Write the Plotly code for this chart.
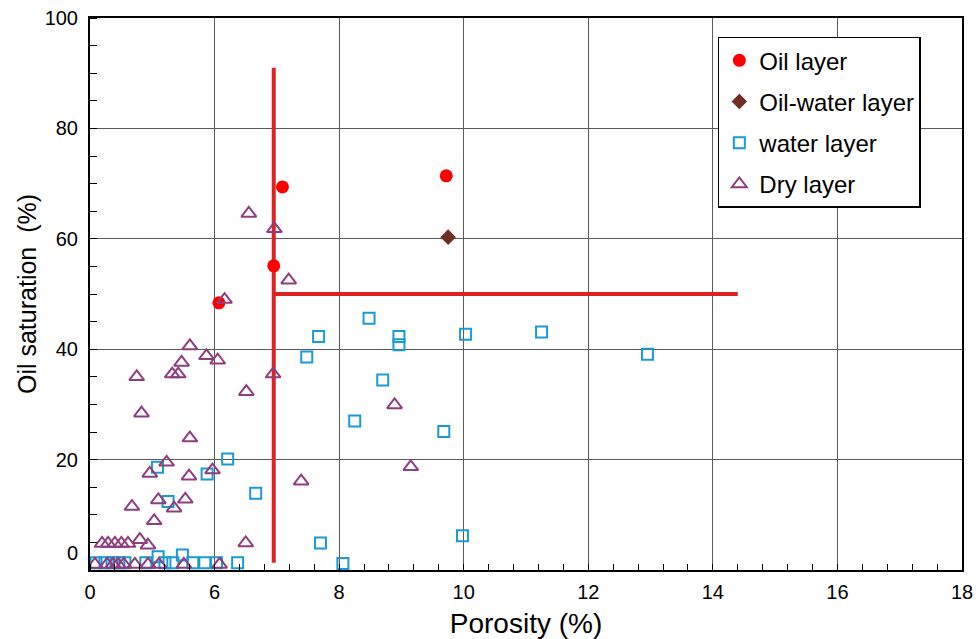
import plotly.graph_objects as go

# ---------------- data (real porosity %, oil saturation %) ----------------
oil_por = [7.09, 9.72, 6.95, 6.07]
oil_sat = [69.4, 71.4, 55.1, 48.4]

ow_por = [9.75]
ow_sat = [60.3]

water_por = [3.25, 5.64, 6.21, 6.66, 3.76, 7.70, 9.98, 8.06,
             0.29, 0.72, 1.06, 1.39, 1.68, 2.69, 3.61, 3.99, 4.95, 5.53, 6.03, 6.37,
             3.28, 4.45,
             7.67, 7.48, 8.48, 8.96, 8.96, 10.03, 11.25, 12.95, 8.70, 8.25, 9.68]
water_sat = [18.6, 17.4, 20.1, 13.9, 12.4, 4.9, 6.2, 1.2,
             1.3, 1.3, 1.3, 1.3, 1.3, 1.3, 1.3, 1.3, 1.3, 1.3, 1.3, 1.3,
             2.4, 2.7,
             42.3, 38.6, 45.6, 42.3, 40.8, 42.7, 43.1, 39.1, 34.4, 27.0, 25.1]

dry_por = [2.25, 2.48, 4.81, 3.69, 2.88, 4.77, 5.90, 3.29, 4.59, 2.02, 4.05, 3.09,
           0.58, 0.87, 1.20, 1.51, 1.83, 2.40, 2.79,
           0.24, 0.82, 1.11, 1.35, 1.63, 2.16, 2.79, 3.32, 4.52, 6.08,
           4.81, 5.61, 6.05, 4.41, 3.96, 4.25, 6.94, 6.51,
           6.55, 6.96, 7.19, 6.16, 7.39, 6.50, 8.89, 9.15]
dry_sat = [35.0, 28.4, 23.9, 19.5, 17.5, 17.0, 18.1, 12.7, 12.8, 11.5, 11.2, 8.9,
           4.8, 4.8, 4.8, 4.8, 4.8, 5.5, 4.5,
           1.0, 1.0, 1.0, 1.0, 1.0, 1.0, 1.0, 1.0, 1.0, 1.0,
           40.6, 38.8, 38.0, 37.6, 35.5, 35.5, 35.5, 32.3,
           64.6, 61.8, 52.5, 49.0, 16.1, 4.9, 29.9, 18.7]

# cut-off lines
vline_por = [6.95, 6.95]
vline_sat = [1.3, 91.0]
hline_por = [6.95, 14.4]
hline_sat = [50.0, 50.0]

x_tick_real = [0, 6, 8, 10, 12, 14, 16, 18]
x_tick_text = ["0", "6", "8", "10", "12", "14", "16", "18"]
y_tick_vals = [0, 20, 40, 60, 80, 100]
y_tick_text = ["", "20", "40", "60", "80", "100"]


# broken porosity axis: 0-6 % compressed into the width of 2 units
def brk(v):
    return [p / 3.0 + 4.0 if p < 6 else p for p in v]


FONT = "Liberation Sans, Arial, sans-serif"

fig = go.Figure()

fig.add_trace(go.Scatter(x=brk(vline_por), y=vline_sat, mode="lines",
                         line=dict(color="#DE2420", width=4), showlegend=False,
                         hoverinfo="skip"))
fig.add_trace(go.Scatter(x=brk(hline_por), y=hline_sat, mode="lines",
                         line=dict(color="#DE2420", width=4), showlegend=False,
                         hoverinfo="skip"))

fig.add_trace(go.Scatter(x=brk(oil_por), y=oil_sat, mode="markers", name="Oil layer",
                         legendgroup="a",
                         marker=dict(symbol="circle", size=13, color="#FF0000")))
fig.add_trace(go.Scatter(x=brk(ow_por), y=ow_sat, mode="markers", name="Oil-water layer",
                         legendgroup="b",
                         marker=dict(symbol="diamond", size=12, color="#6E2F24")))
fig.add_trace(go.Scatter(x=brk(water_por), y=water_sat, mode="markers", name="water layer",
                         legendgroup="c",
                         marker=dict(symbol="square-open", size=11, color="#1B9AD6",
                                     line=dict(width=2, color="#1B9AD6"))))
fig.add_trace(go.Scatter(x=brk(dry_por), y=dry_sat, mode="markers", name="Dry layer",
                         legendgroup="d",
                         marker=dict(symbol="triangle-up-open", size=13, color="#8E3E7E",
                                     line=dict(width=2, color="#8E3E7E"))))

fig.add_annotation(x=-0.011, xref="paper", y=3.1, yref="y", text="0", showarrow=False,
                   xanchor="right", yanchor="middle",
                   font=dict(family=FONT, size=20, color="black"))

fig.update_layout(
    width=980, height=639,
    margin=dict(l=90, r=18, t=18, b=69),
    paper_bgcolor="white", plot_bgcolor="white",
    font=dict(family=FONT, size=20, color="black"),
    showlegend=True,
    legend=dict(x=0.72, y=0.966, xanchor="left", yanchor="top",
                bgcolor="white", bordercolor="black", borderwidth=1.5,
                font=dict(family=FONT, size=24, color="black"),
                tracegroupgap=7, itemwidth=30),
    xaxis=dict(range=[4, 18], tickmode="array", tickvals=brk(x_tick_real),
               ticktext=x_tick_text, ticks="", showgrid=True, gridcolor="#5a5a5a",
               gridwidth=1, showline=True, linecolor="black", linewidth=2, mirror=True,
               zeroline=False, ticklabelstandoff=3, automargin=False,
               minor=dict(tickmode="linear", tick0=4, dtick=0.4, ticks="inside",
                          ticklen=6, tickcolor="black", tickwidth=1, showgrid=False),
               title=dict(text="Porosity (%)", font=dict(family=FONT, size=28),
                          standoff=12)),
    yaxis=dict(range=[0, 100], tickmode="array", tickvals=y_tick_vals,
               ticktext=y_tick_text, ticks="", showgrid=True, gridcolor="#5a5a5a",
               gridwidth=1, showline=True, linecolor="black", linewidth=2, mirror=True,
               zeroline=False, ticklabelstandoff=6, automargin=False,
               minor=dict(tickmode="linear", tick0=0, dtick=5, ticks="inside",
                          ticklen=7, tickcolor="black", tickwidth=1, showgrid=False),
               title=dict(text="Oil saturation\u00a0 (%)", font=dict(family=FONT, size=25),
                          standoff=1)),
)

# remove the default 8 px page margin so the 980x639 figure fills the window
fig.write_html("out.html", config={"displayModeBar": False},
               post_script="document.body.style.margin='0';document.body.style.overflow='hidden';")
